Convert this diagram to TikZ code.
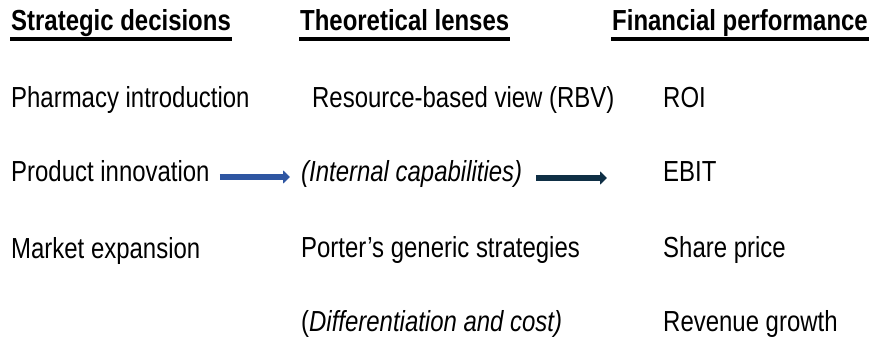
\documentclass[tikz,border=0pt]{standalone}
\usepackage{fontspec}
\setmainfont{Liberation Sans}[FakeStretch=0.826]
\usetikzlibrary{arrows.meta}
\definecolor{arrowblue}{HTML}{2F56A2}
\definecolor{arrownavy}{HTML}{0F2F45}
\begin{document}
\begin{tikzpicture}[x=1pt,y=1pt,
  txt/.style={anchor=base west,inner sep=0pt,font=\fontsize{29}{34}\selectfont},
  hdr/.style={txt,font=\fontsize{29}{34}\selectfont\bfseries},
  ul/.style={line width=3.5pt},
  arrA/.style={draw=arrowblue,line width=5.5pt,-{Triangle[length=7pt,width=13pt]}},
  arrB/.style={draw=arrownavy,line width=6pt,-{Triangle[length=7pt,width=13pt]}}]
\useasboundingbox (0,0) rectangle (870,-342);
% headers
\node[hdr] (h1) at (11,-31) {Strategic decisions};
\node[hdr] (h2) at (300,-31) {Theoretical lenses};
\node[hdr] (h3) at (612,-31) {Financial performance};
\foreach \h in {h1,h2,h3}
  \draw[ul] ([shift={(-1pt,-8pt)}]\h.base west) -- ([shift={(1pt,-8pt)}]\h.base east);
% column 1
\node[txt] (p1) at (11,-108) {Pharmacy introduction};
\node[txt] (p2) at (11,-182) {Product innovation};
\node[txt] (p3) at (11,-258) {Market expansion};
% column 2
\node[txt] (rbv) at (312,-108) {Resource-based view (RBV)};
\node[txt] (int) at (301,-182) {\itshape (Internal capabilities)};
\node[txt] (por) at (301,-257) {Porter’s generic strategies};
\node[txt] (dif) at (301,-331) {(\textit{Differentiation and cost)}};
% column 3
\node[txt] (roi) at (663,-108) {ROI};
\node[txt] (ebit) at (663,-182) {EBIT};
\node[txt] (shp) at (663,-257) {Share price};
\node[txt] (rev) at (663,-331) {Revenue growth};
% arrows
\draw[arrA] ([shift={(10pt,5pt)}]p2.base east) -- ([shift={(-11pt,5pt)}]int.base west);
\draw[arrB] ([shift={(14pt,4pt)}]int.base east) -- ([shift={(-56pt,4pt)}]ebit.base west);
\end{tikzpicture}
\end{document}
